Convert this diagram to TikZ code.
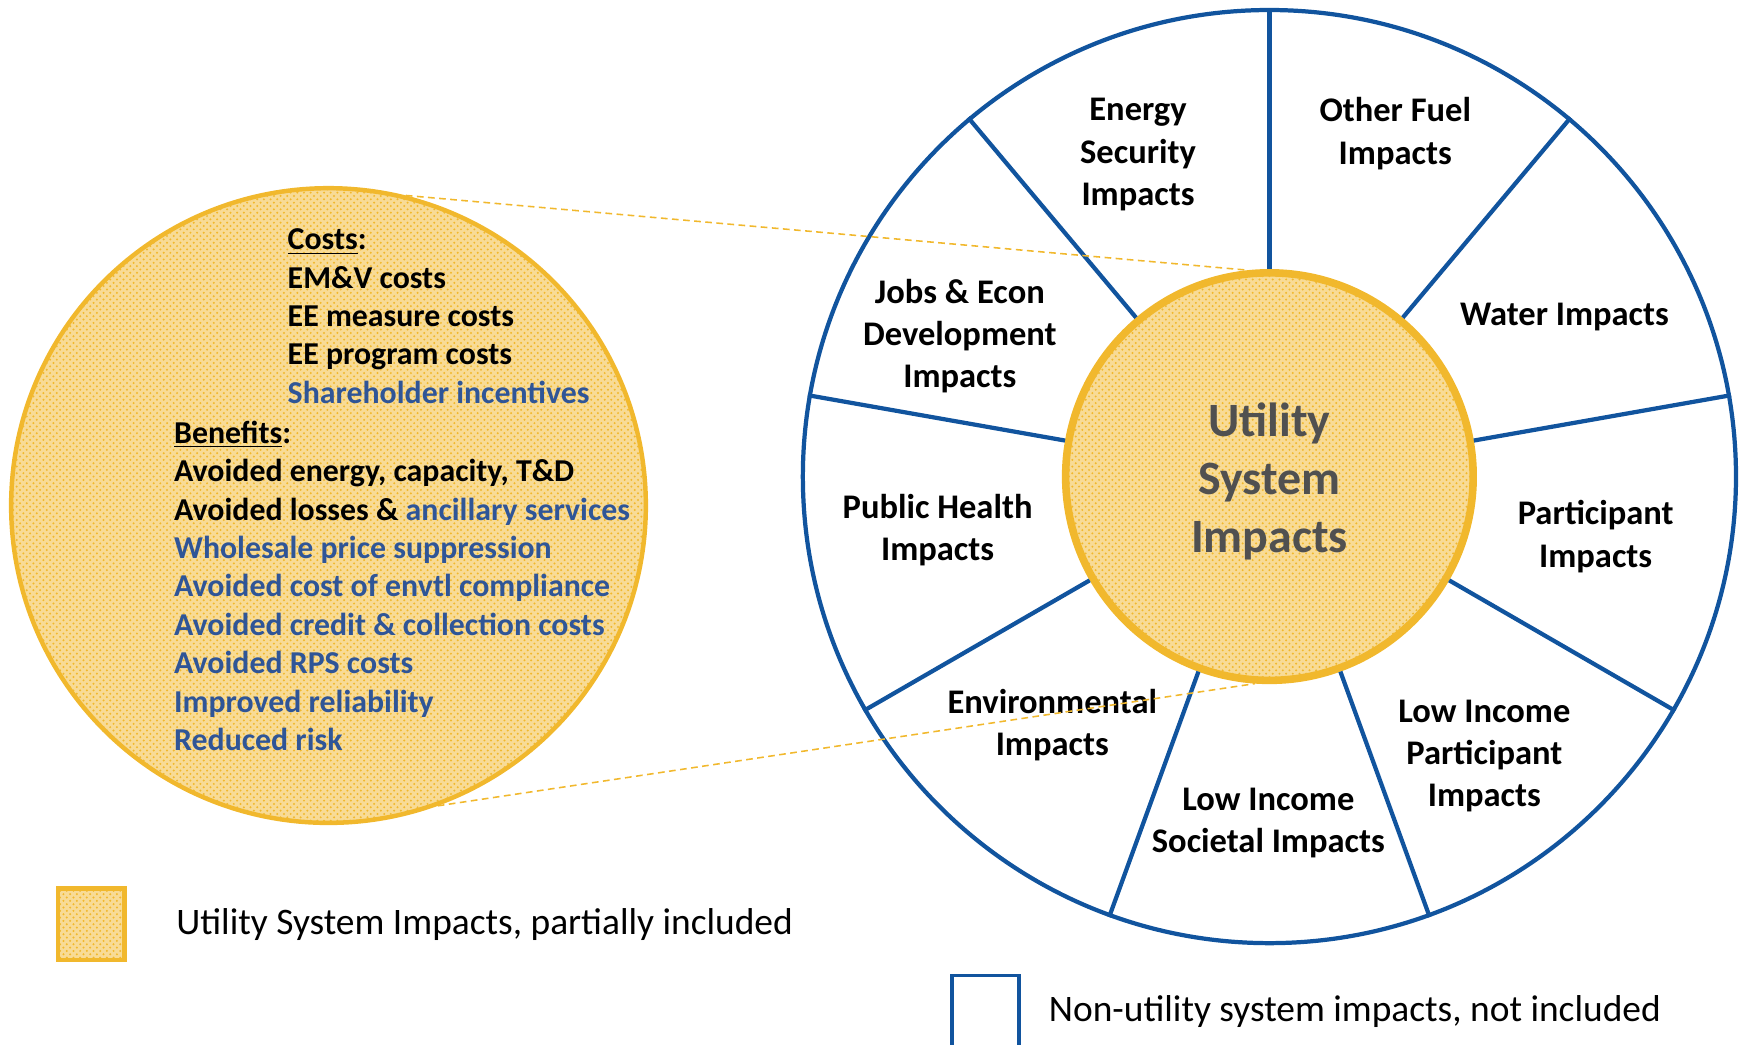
\documentclass[tikz,border=0pt]{standalone}
\usepackage{fontspec}
\setmainfont{Carlito}
\usetikzlibrary{positioning, patterns}

\definecolor{lineblue}{RGB}{17,84,158}
\definecolor{textblue}{RGB}{47,85,151}
\definecolor{ugold}{RGB}{241,184,45}
\definecolor{ugray}{RGB}{80,80,80}

\tikzset{
    usifill/.style={preaction={fill=ugold!50}, pattern=crosshatch dots, pattern color=ugold},
    sector/.style={font=\fontsize{15.5}{19}\selectfont\bfseries, align=center},
    listtext/.style={font=\fontsize{14.3}{17.25}\selectfont\bfseries, align=left, inner sep=0pt, anchor=north west},
    spoke/.style={draw=lineblue, line width=1.9pt},
    zoomline/.style={draw=ugold, line width=0.7pt, dash pattern=on 3pt off 2pt},
    legendtext/.style={font=\fontsize{16.8}{20}\selectfont, anchor=west, inner sep=0pt},
}

\begin{document}
\begin{tikzpicture}[x=0.5pt, y=0.5pt]
        \useasboundingbox (0,0) rectangle (1568,938);
        % Wheel of impacts
        \node[circle, draw=lineblue, line width=1.9pt, minimum size=419pt, inner sep=0pt] (wheel) at (1140,510) {};
        \node[circle, draw=ugold, line width=3.4pt, minimum size=183pt, inner sep=0pt, usifill] (usi) at (1140,510) {};
        \node[text=ugray, align=center, font=\fontsize{21.5}{26}\selectfont\bfseries] (usitext) at (1140,506) {Utility\\System\\Impacts};
        \foreach \a in {90,130,170,210,250,290,330,10,50}
            \draw[spoke] (usi.\a) -- (wheel.\a);
        % Sector labels
        \node[sector] (energy) at (1022,799) {Energy\\Security\\Impacts};
        \node[sector] (fuel) at (1253,818) {Other Fuel\\Impacts};
        \node[sector] (water) at (1405,653) {Water Impacts};
        \node[sector] (participant) at (1433,456) {Participant\\Impacts};
        \node[sector] (lowpart) at (1333,259) {Low Income\\Participant\\Impacts};
        \node[sector] (lowsoc) at (1139,199) {Low Income\\Societal Impacts};
        \node[sector] (envir) at (945,287) {Environmental\\Impacts};
        \node[sector] (health) at (842,462) {Public Health\\Impacts};
        \node[sector] (jobs) at (862,636) {Jobs \& Econ\\Development\\Impacts};
        % Zoomed utility system circle
        \node[circle, draw=ugold, line width=2pt, minimum size=285pt, inner sep=0pt, usifill] (zoomc) at (295,484) {};
        \node[listtext] (costs) at (258,733) {\underline{Costs}:\\EM\&V costs\\EE measure costs\\EE program costs\\\textcolor{textblue}{Shareholder incentives}};
        \node[listtext] (benefits) at (156,560.5) {\underline{Benefits}:\\Avoided energy, capacity, T\&D\\Avoided losses \& \textcolor{textblue}{ancillary services}\\
            \textcolor{textblue}{Wholesale price suppression}\\\textcolor{textblue}{Avoided cost of envtl compliance}\\
            \textcolor{textblue}{Avoided credit \& collection costs}\\\textcolor{textblue}{Avoided RPS costs}\\
            \textcolor{textblue}{Improved reliability}\\\textcolor{textblue}{Reduced risk}};
        \draw[zoomline] (zoomc.76) -- (usi.96);
        \draw[zoomline] (zoomc.-70) -- (usi.-94);
        % Legend
        \node[draw=ugold, line width=2pt, usifill, minimum width=30pt, minimum height=32pt, inner sep=0pt] (ukey) at (82,108) {};
        \node[legendtext, right=22pt of ukey] (ukeytext) {Utility System Impacts, partially included};
        \node[draw=lineblue, line width=1.6pt, minimum width=30pt, minimum height=32pt, inner sep=0pt] (nkey) at (885,30) {};
        \node[legendtext, right=12.5pt of nkey] (nkeytext) {Non-utility system impacts, not included};
    \end{tikzpicture}
\end{document}
